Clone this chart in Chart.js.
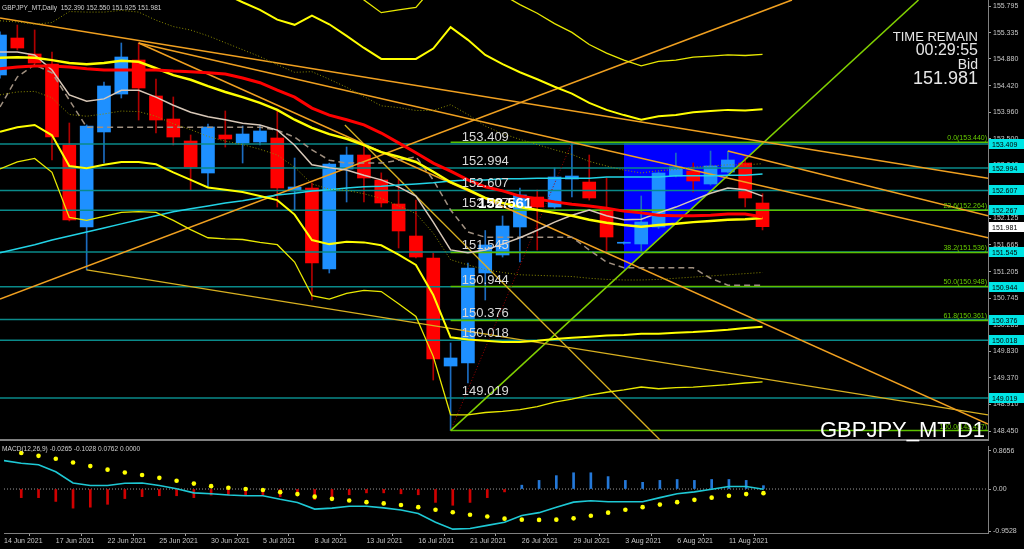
<!DOCTYPE html>
<html>
<head>
<meta charset="utf-8">
<script src="https://cdn.jsdelivr.net/npm/chart.js@4.4.0/dist/chart.umd.min.js"></script>
<style>
  html, body { margin: 0; padding: 0; background: #000; overflow: hidden; }
  #wrap { position: relative; width: 1024px; height: 549px; }
  canvas { position: absolute; left: 0; }
  #price { top: 0; }
  #macd { top: 442px; }
</style>
</head>
<body>
<div id="wrap">
  <canvas id="price" width="1024" height="442"></canvas>
  <canvas id="macd" width="1024" height="107"></canvas>
</div>
<script>
// ─── data ────────────────────────────────────────────────────────────────────
const dates = ['14 Jun 2021','15 Jun 2021','16 Jun 2021','17 Jun 2021','18 Jun 2021','21 Jun 2021','22 Jun 2021',
  '23 Jun 2021','24 Jun 2021','25 Jun 2021','28 Jun 2021','29 Jun 2021','30 Jun 2021','1 Jul 2021','2 Jul 2021',
  '5 Jul 2021','6 Jul 2021','7 Jul 2021','8 Jul 2021','9 Jul 2021','12 Jul 2021','13 Jul 2021','14 Jul 2021',
  '15 Jul 2021','16 Jul 2021','19 Jul 2021','20 Jul 2021','21 Jul 2021','22 Jul 2021','23 Jul 2021','26 Jul 2021',
  '27 Jul 2021','28 Jul 2021','29 Jul 2021','30 Jul 2021','2 Aug 2021','3 Aug 2021','4 Aug 2021','5 Aug 2021',
  '6 Aug 2021','9 Aug 2021','10 Aug 2021','11 Aug 2021','12 Aug 2021','13 Aug 2021'];
const dateTicks = [0,3,6,9,12,15,18,21,24,27,30,33,36,39,42];

const open  = [154.603,155.242,154.966,154.793,153.393,151.976,153.618,154.274,154.862,154.240,153.842,153.462,152.909,153.566,153.428,
  153.445,153.514,152.598,152.650,151.250,152.978,153.220,152.788,152.373,151.820,151.440,149.573,149.625,151.181,151.492,
  151.976,152.494,152.321,152.805,152.753,152.270,151.695,151.682,151.976,152.857,152.944,152.719,152.926,153.082,152.390];
const high  = [155.350,155.467,155.381,155.000,153.773,153.740,154.482,155.156,155.156,154.534,154.223,153.566,153.756,153.981,153.721,
  153.739,153.998,153.168,152.736,153.080,153.358,153.393,152.911,152.805,152.442,151.526,149.971,151.354,151.915,152.166,
  152.650,152.615,152.995,153.440,153.220,152.823,151.720,152.512,152.930,153.255,153.082,153.289,153.289,153.186,152.550];
const low   = [154.550,155.035,154.793,153.134,152.080,151.233,153.082,154.205,153.825,153.600,153.393,152.615,152.667,153.358,153.082,
  153.393,152.321,152.270,150.714,151.181,152.408,152.408,152.321,151.613,151.440,149.331,148.457,149.280,150.714,151.457,
  151.371,151.578,152.300,152.494,152.442,151.544,151.680,151.526,151.950,152.840,152.581,152.700,152.910,152.321,151.925];
const close = [155.294,155.069,154.810,153.531,152.097,153.721,154.413,154.914,154.378,153.825,153.531,153.013,153.704,153.497,153.583,
  153.635,152.650,152.667,151.354,153.065,153.220,152.823,152.391,151.907,151.457,149.694,149.712,151.267,151.665,151.993,
  152.529,152.321,152.840,152.857,152.477,151.803,151.705,152.062,152.909,153.013,152.771,153.030,153.134,152.477,151.981];

const maRed = [154.71,154.74,154.76,154.76,154.74,154.71,154.69,154.69,154.69,154.69,154.67,154.66,154.64,154.62,154.55,
  154.47,154.34,154.22,154.03,153.91,153.83,153.74,153.60,153.43,153.26,153.08,152.94,152.79,152.67,152.60,
  152.51,152.46,152.41,152.37,152.34,152.30,152.25,152.22,152.18,152.17,152.17,152.18,152.20,152.20,152.15];
const bbMid = [154.90,154.91,154.90,154.86,154.81,154.79,154.81,154.85,154.83,154.72,154.60,154.52,154.41,154.31,154.22,
  154.12,154.00,153.83,153.69,153.58,153.50,153.39,153.27,153.19,153.10,152.93,152.75,152.62,152.48,152.39,
  152.32,152.27,152.22,152.17,152.10,152.05,152.01,151.98,152.01,152.03,152.06,152.08,152.10,152.11,152.13];
const bbUp1 = [155.54,155.52,155.48,155.51,155.70,155.69,155.69,155.72,155.69,155.55,155.44,155.38,155.28,155.16,155.04,
  154.92,154.78,154.65,154.66,154.53,154.39,154.23,154.07,154.04,153.99,153.99,154.09,153.92,153.72,153.59,
  153.49,153.40,153.31,153.23,153.11,153.03,152.96,152.91,152.95,152.97,153.01,153.03,153.05,153.05,153.07];
const bbLo1 = [154.26,154.31,154.32,154.21,153.92,153.89,153.93,153.98,153.97,153.89,153.76,153.66,153.54,153.46,153.40,
  153.32,153.22,153.01,152.72,152.63,152.61,152.55,152.47,152.34,152.21,151.87,151.41,151.32,151.24,151.19,
  151.15,151.14,151.13,151.12,151.09,151.07,151.06,151.06,151.07,151.09,151.11,151.13,151.15,151.17,151.19];
const bbUp2 = [156.18,156.12,156.06,156.16,156.59,156.59,156.57,156.60,156.56,156.38,156.28,156.25,156.16,156.00,155.86,
  155.73,155.56,155.47,155.63,155.48,155.28,155.07,154.88,154.88,154.88,155.06,155.43,155.21,154.95,154.79,
  154.65,154.53,154.40,154.28,154.12,154.00,153.91,153.83,153.89,153.91,153.96,153.98,154.00,153.99,154.01];
const bbLo2 = [153.62,153.70,153.74,153.56,153.03,152.99,153.05,153.10,153.10,153.06,152.92,152.79,152.66,152.62,152.58,
  152.51,152.44,152.19,151.75,151.68,151.72,151.71,151.66,151.50,151.32,150.80,150.07,150.03,150.01,149.99,
  149.99,150.01,150.04,150.06,150.08,150.10,150.11,150.13,150.13,150.15,150.16,150.18,150.20,150.23,150.25];
const bbUp3 = [156.82,156.73,156.64,156.80,157.48,157.49,157.46,157.47,157.42,157.21,157.11,157.11,157.03,156.85,156.68,
  156.53,156.33,156.29,156.59,156.43,156.17,155.90,155.68,155.73,155.77,156.12,156.77,156.51,156.19,155.99,
  155.82,155.67,155.49,155.34,155.13,154.98,154.86,154.76,154.84,154.86,154.91,154.93,154.95,154.94,154.96];
const bbLo3 = [152.98,153.10,153.16,152.92,152.14,152.09,152.16,152.23,152.24,152.23,152.09,151.93,151.79,151.77,151.76,
  151.71,151.67,151.37,150.79,150.73,150.83,150.88,150.86,150.65,150.43,149.74,148.73,148.73,148.77,148.79,
  148.82,148.87,148.95,149.00,149.07,149.12,149.16,149.21,149.18,149.20,149.21,149.23,149.25,149.28,149.30];
const maCyan = [151.53,151.60,151.67,151.75,151.82,151.89,151.96,152.03,152.10,152.17,152.24,152.29,152.34,152.39,152.43,
  152.48,152.53,152.56,152.60,152.62,152.65,152.67,152.68,152.70,152.72,152.74,152.77,152.79,152.79,152.81,
  152.81,152.82,152.82,152.82,152.82,152.84,152.84,152.84,152.84,152.86,152.86,152.86,152.87,152.87,152.89];
const maWhite = [155.00,155.00,154.95,154.69,154.26,154.15,154.19,154.34,154.34,154.22,154.08,153.96,153.88,153.83,153.77,
  153.74,153.65,153.39,153.05,153.00,152.96,152.87,152.79,152.67,152.51,152.06,151.58,151.53,151.58,151.68,
  151.79,151.92,152.06,152.18,152.27,152.17,152.10,152.11,152.22,152.32,152.44,152.56,152.65,152.62,152.51];
const maDash = [154.05,154.57,154.78,154.64,154.17,153.70,153.70,153.70,153.70,153.70,153.70,153.70,153.70,153.70,153.70,
  153.70,153.65,153.53,153.31,153.13,153.08,153.08,153.08,153.13,153.19,152.79,152.27,151.89,151.80,151.80,
  151.80,151.80,151.80,151.80,151.58,151.37,151.27,151.27,151.27,151.27,151.27,151.09,150.97,150.97,150.97];

// horizontal levels, fibonacci levels, trend lines as [bar, price, bar, price]
const levels = [153.409,152.994,152.607,152.267,151.545,150.944,150.376,150.018,149.019];
const fibLevels = [153.440,152.264,151.536,150.948,150.361,148.457];
const fibNames  = ['0.0','23.6','38.2','50.0','61.8','100.0'];
const fibStart = 26;
const trendOrange = [[0,150.73,45.7,155.9],[0,155.59,57.01,152.82],[8,155.156,57.01,151.79],[8,155.156,57.01,148.57],[42,153.289,57.01,152.17]];
const trendGold = [[5,151.233,57.01,148.73],[19.9,153.74,38.1,148.29]];
const trendGreen = [26,148.457,53,155.9];
const fibTrend = [26,148.457,33,153.44];
const triangle = [36,151.215,44.08,153.44];
const priceTicks = [155.795,155.335,154.880,154.420,153.960,153.500,153.040,152.580,152.125,151.665,151.205,
  150.745,150.285,149.830,149.370,148.910,148.450];
const bid = 151.981;
const markPrice = 152.561;

const macdHist = [null,-0.195,-0.195,-0.281,-0.433,-0.411,-0.346,-0.216,-0.173,-0.152,-0.152,-0.195,-0.137,-0.130,-0.130,
  -0.130,-0.173,-0.152,-0.238,-0.195,-0.130,-0.087,-0.087,-0.108,-0.130,-0.303,-0.368,-0.303,-0.195,-0.065,
  0.087,0.195,0.303,0.368,0.368,0.281,0.195,0.152,0.195,0.216,0.195,0.216,0.216,0.195,0.076];
const macdLine = [0.643,0.584,0.548,0.390,0.136,0.079,0.079,0.130,0.136,0.079,0.007,-0.087,-0.108,-0.137,-0.152,
  -0.152,-0.232,-0.303,-0.455,-0.433,-0.390,-0.390,-0.426,-0.476,-0.556,-0.751,-0.909,-0.894,-0.823,-0.751,
  -0.600,-0.535,-0.411,-0.297,-0.267,-0.288,-0.288,-0.288,-0.195,-0.108,-0.065,-0.007,0.058,0.058,-0.007];
const macdSignal = [null,0.816,0.751,0.686,0.599,0.519,0.439,0.374,0.318,0.253,0.188,0.123,0.065,0.028,0.000,
  -0.022,-0.071,-0.115,-0.173,-0.223,-0.260,-0.297,-0.325,-0.361,-0.411,-0.470,-0.526,-0.584,-0.621,-0.671,
  -0.693,-0.699,-0.693,-0.664,-0.606,-0.535,-0.470,-0.411,-0.353,-0.297,-0.245,-0.195,-0.152,-0.115,-0.093];
const macdTicks = [0.8656, 0, -0.9528];

// ─── helpers ─────────────────────────────────────────────────────────────────
const FONT = "'Liberation Sans', Arial, sans-serif";
const X_MAX = 57.01;
Chart.defaults.font.family = FONT;

const series = (vals, color, width, order, dash) => ({
  type: 'line', data: vals.map((v, i) => ({ x: i, y: v })),
  borderColor: color, borderWidth: width, borderDash: dash || [], order, pointRadius: 0,
});
const seg = (s, color, width, order, dash) => ({
  type: 'line', data: [{ x: s[0], y: s[1] }, { x: s[2], y: s[3] }],
  borderColor: color, borderWidth: width, borderDash: dash || [], order, pointRadius: 0,
});

const common = {
  responsive: false, animation: false, events: [], devicePixelRatio: 1,
  layout: { padding: 0 },
  plugins: { legend: { display: false }, tooltip: { enabled: false } },
  elements: { point: { radius: 0 }, line: { tension: 0 } },
};
const yAxisFit = s => { s.width = 36; s.paddingTop = 0; s.paddingBottom = 0; };

// ─── overlays (texts, axis boxes) ────────────────────────────────────────────
const priceText = {
  id: 'priceText',
  afterDraw(chart) {
    const { ctx, scales: { x, y }, chartArea } = chart;
    const R = chartArea.right;
    ctx.save();
    ctx.textBaseline = 'alphabetic';

    ctx.font = `13px ${FONT}`; ctx.fillStyle = '#d8d8d8'; ctx.textAlign = 'left';
    levels.forEach(v => ctx.fillText(v.toFixed(3), x.getPixelForValue(26.65), y.getPixelForValue(v) - 3));
    ctx.font = `bold 15px ${FONT}`; ctx.fillStyle = '#ffffff';
    ctx.fillText(markPrice.toFixed(3), x.getPixelForValue(27.58), y.getPixelForValue(152.267) - 2);

    ctx.font = `7px ${FONT}`; ctx.fillStyle = '#66cc00'; ctx.textAlign = 'right';
    fibLevels.forEach((v, i) => ctx.fillText(`${fibNames[i]}(${v.toFixed(3)})`, R - 1, y.getPixelForValue(v) - 2));

    // right axis boxes
    ctx.textAlign = 'left';
    levels.forEach(v => {
      const py = Math.round(y.getPixelForValue(v));
      ctx.fillStyle = '#00e5e5'; ctx.fillRect(R + 1, py - 5, 35, 10);
      ctx.fillStyle = '#000'; ctx.fillText(v.toFixed(3), R + 4, py + 3);
    });
    const by = Math.round(y.getPixelForValue(bid));
    ctx.fillStyle = '#ffffff'; ctx.fillRect(R + 1, by - 5, 35, 10);
    ctx.fillStyle = '#000'; ctx.fillText(bid.toFixed(3), R + 4, by + 3);

    // captions
    ctx.fillStyle = '#d0d0d0'; ctx.font = `6.6px ${FONT}`;
    ctx.fillText('GBPJPY_MT,Daily  152.390 152.550 151.925 151.981', 2, 10);
    ctx.fillStyle = '#e6e6e6'; ctx.textAlign = 'right';
    ctx.font = `13px ${FONT}`; ctx.fillText('TIME REMAIN', 978, 41);
    ctx.font = `16px ${FONT}`; ctx.fillText('00:29:55', 978, 55);
    ctx.font = `14px ${FONT}`; ctx.fillText('Bid', 978, 69);
    ctx.font = `18px ${FONT}`; ctx.fillText('151.981', 978, 84);
    ctx.fillStyle = '#ffffff'; ctx.font = `22px ${FONT}`;
    ctx.fillText('GBPJPY_MT D1', 985, 437);
    ctx.restore();
  },
};
const macdText = {
  id: 'macdText',
  afterDraw(chart) {
    const { ctx } = chart;
    ctx.save();
    ctx.font = `6.6px ${FONT}`; ctx.fillStyle = '#d0d0d0'; ctx.textAlign = 'left';
    ctx.fillText('MACD(12,26,9) -0.0265 -0.1028 0.0762 0.0000', 2, 9);
    ctx.restore();
  },
};

// ─── price panel ─────────────────────────────────────────────────────────────
const bull = open.map((o, i) => close[i] >= o);
const priceSets = [
  series(maRed, '#ff0000', 3, 1),
  series(bbMid, '#ffff00', 2.5, 2),
  series(bbUp2, '#ffff00', 2, 3),
  series(bbLo2, '#ffff00', 2, 3),
  series(bbUp3, '#e8e800', 1.3, 4),
  series(bbLo3, '#e8e800', 1.3, 4),
  series(bbUp1, '#8c8c00', 1, 5, [1, 2]),
  series(bbLo1, '#8c8c00', 1, 5, [1, 2]),
  series(maCyan, '#22d3e6', 1.5, 6),
  series(maWhite, '#d8c8b8', 1.5, 7),
  series(maDash, '#a09080', 1.5, 8, [6, 4]),
  ...trendOrange.map(s => seg(s, '#f0a020', 1.5, 9)),
  ...trendGold.map(s => seg(s, '#d8b020', 1.3, 9)),
  seg(trendGreen, '#80d000', 1.5, 9),
  seg(fibTrend, '#a00000', 1, 9, [1, 2]),
  ...fibLevels.map(v => seg([fibStart, v, X_MAX, v], '#5cc000', 1.5, 10)),
  ...levels.map(v => seg([0, v, X_MAX, v], '#0a8a8a', 1.5, 11)),
  {
    type: 'bar', order: 12, grouped: false, barThickness: 13, maxBarThickness: 13, minBarLength: 1,
    data: open.map((o, i) => ({ x: i, y: [o, close[i]] })),
    backgroundColor: bull.map(b => b ? '#1e90ff' : '#ff0000'),
  },
  {
    type: 'bar', order: 13, grouped: false, barThickness: 1, maxBarThickness: 1,
    data: low.map((l, i) => ({ x: i, y: [l, high[i]] })),
    backgroundColor: bull.map(b => b ? '#1c6cc0' : '#b00000'),
  },
  {
    type: 'line', order: 20, pointRadius: 0, borderWidth: 0, backgroundColor: '#0000ff',
    data: [{ x: triangle[0], y: triangle[1] }, { x: triangle[2], y: triangle[3] }],
    fill: { value: triangle[3] },
  },
];

new Chart(document.getElementById('price'), {
  type: 'line',
  data: { datasets: priceSets },
  options: {
    ...common,
    scales: {
      x: {
        type: 'linear', min: 0, max: X_MAX, offset: false,
        grid: { display: false }, ticks: { display: false },
        border: { display: true, color: '#808080', width: 2 },
        afterFit: s => { s.height = 2; s.paddingLeft = 0; s.paddingRight = 0; },
      },
      y: {
        position: 'right', min: 148.2945, max: 155.899,
        afterBuildTicks: s => { s.ticks = priceTicks.map(v => ({ value: v })); },
        ticks: { autoSkip: false, color: '#c8c8c8', font: { size: 7 }, padding: 2, callback: v => v.toFixed(3) },
        grid: { drawOnChartArea: false, drawTicks: true, tickLength: 3, color: '#a0a0a0' },
        border: { display: true, color: '#808080' },
        afterFit: yAxisFit,
      },
    },
  },
  plugins: [priceText],
});

// ─── MACD panel ──────────────────────────────────────────────────────────────
new Chart(document.getElementById('macd'), {
  type: 'line',
  data: {
    datasets: [
      {
        type: 'line', order: 1, showLine: false, pointRadius: 2.3, pointBorderWidth: 0,
        pointBackgroundColor: '#ffff00', data: macdSignal.map((v, i) => ({ x: i, y: v })),
      },
      series(macdLine, '#1ec8d4', 1.6, 2),
      {
        type: 'bar', order: 3, grouped: false, barThickness: 2, maxBarThickness: 2,
        data: macdHist.map((v, i) => ({ x: i, y: v })),
        backgroundColor: macdHist.map(v => v >= 0 ? '#2478d8' : '#d00000'),
      },
      seg([0, 0, X_MAX, 0], '#9a9a9a', 1, 4, [1, 2]),
    ],
  },
  options: {
    ...common,
    scales: {
      x: {
        type: 'linear', min: 0, max: X_MAX, offset: false,
        afterBuildTicks: s => { s.ticks = dateTicks.map(v => ({ value: v })); },
        ticks: { autoSkip: false, maxRotation: 0, align: 'start', padding: 1, color: '#c8c8c8',
          font: { size: 7 }, callback: v => dates[v] },
        grid: { drawOnChartArea: false, drawTicks: true, tickLength: 3, color: '#a0a0a0' },
        border: { display: true, color: '#808080' },
        afterFit: s => { s.height = 16; s.paddingLeft = 0; s.paddingRight = 0; },
      },
      y: {
        position: 'right', min: -0.9957, max: 0.974,
        afterBuildTicks: s => { s.ticks = macdTicks.map(v => ({ value: v })); },
        ticks: { autoSkip: false, color: '#c8c8c8', font: { size: 7 }, padding: 2,
          callback: v => v === 0 ? '0.00' : v.toFixed(4) },
        grid: { drawOnChartArea: false, drawTicks: true, tickLength: 3, color: '#a0a0a0' },
        border: { display: true, color: '#808080' },
        afterFit: yAxisFit,
      },
    },
  },
  plugins: [macdText],
});
</script>
</body>
</html>
